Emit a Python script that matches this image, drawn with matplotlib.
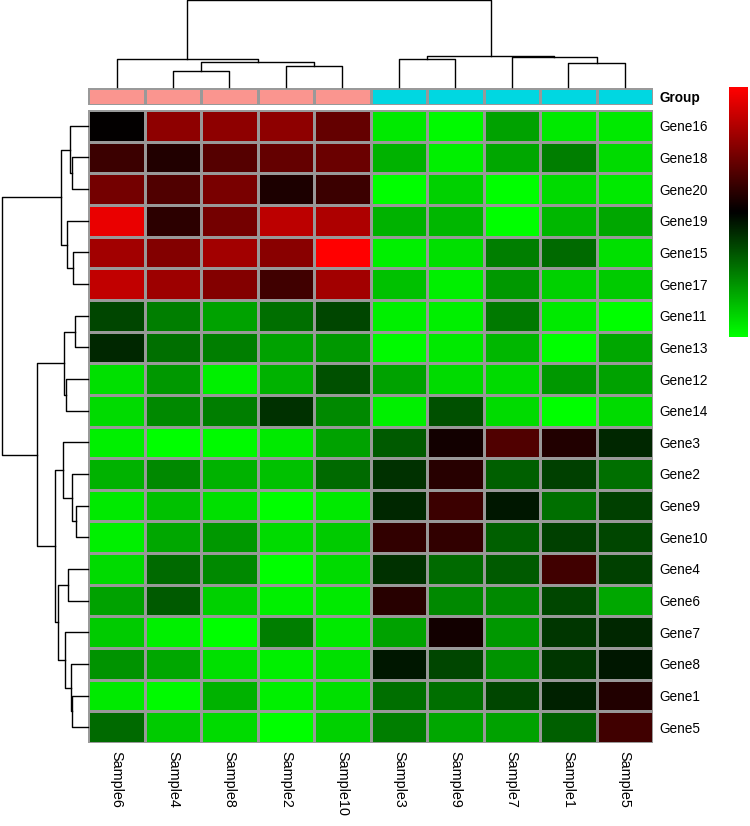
import numpy as np
import matplotlib
matplotlib.use("Agg")
import matplotlib.pyplot as plt
from matplotlib.colors import LinearSegmentedColormap, ListedColormap

plt.rcParams['font.family'] = ['Liberation Sans', 'DejaVu Sans']

# display order after clustering
samples = ["Sample6", "Sample4", "Sample8", "Sample2", "Sample10",
           "Sample3", "Sample9", "Sample7", "Sample1", "Sample5"]
genes = ["Gene16", "Gene18", "Gene20", "Gene19", "Gene15", "Gene17",
         "Gene11", "Gene13", "Gene12", "Gene14", "Gene3", "Gene2",
         "Gene9", "Gene10", "Gene4", "Gene6", "Gene7", "Gene8",
         "Gene1", "Gene5"]
groups = [0, 0, 0, 0, 0, 1, 1, 1, 1, 1]

# scaled expression (-1 = green, 0 = black, 1 = red)
values = np.array([
    [0.00, 0.55, 0.55, 0.55, 0.38, -0.91, -0.97, -0.63, -0.91, -0.91],
    [0.22, 0.13, 0.33, 0.38, 0.41, -0.69, -0.94, -0.66, -0.50, -0.85],
    [0.44, 0.31, 0.47, 0.10, 0.22, -1.00, -0.82, -1.00, -0.85, -0.91],
    [0.91, 0.17, 0.45, 0.72, 0.66, -0.69, -0.72, -1.00, -0.72, -0.66],
    [0.63, 0.50, 0.63, 0.52, 1.00, -0.94, -0.88, -0.50, -0.41, -0.88],
    [0.75, 0.60, 0.50, 0.25, 0.63, -0.75, -0.94, -0.60, -0.82, -0.78],
    [-0.28, -0.50, -0.63, -0.44, -0.28, -0.94, -0.94, -0.47, -0.91, -1.00],
    [-0.16, -0.44, -0.50, -0.63, -0.60, -0.97, -0.91, -0.72, -1.00, -0.66],
    [-0.88, -0.60, -0.94, -0.69, -0.31, -0.63, -0.85, -0.85, -0.60, -0.63],
    [-0.85, -0.53, -0.50, -0.19, -0.53, -0.94, -0.31, -0.85, -1.00, -0.85],
    [-0.94, -1.00, -0.97, -0.91, -0.63, -0.34, 0.06, 0.31, 0.13, -0.16],
    [-0.69, -0.53, -0.69, -0.75, -0.41, -0.19, 0.16, -0.38, -0.25, -0.44],
    [-0.91, -0.75, -0.88, -1.00, -0.91, -0.16, 0.22, -0.09, -0.44, -0.25],
    [-0.94, -0.66, -0.60, -0.85, -0.78, 0.19, 0.19, -0.38, -0.25, -0.28],
    [-0.85, -0.41, -0.53, -1.00, -0.85, -0.19, -0.41, -0.34, 0.25, -0.25],
    [-0.63, -0.34, -0.82, -0.94, -0.91, 0.16, -0.53, -0.53, -0.28, -0.66],
    [-0.78, -0.94, -1.00, -0.50, -0.91, -0.63, 0.06, -0.60, -0.22, -0.16],
    [-0.56, -0.66, -0.88, -0.94, -0.88, -0.09, -0.28, -0.56, -0.22, -0.09],
    [-0.91, -0.97, -0.69, -0.94, -0.88, -0.44, -0.44, -0.28, -0.13, 0.13],
    [-0.41, -0.78, -0.85, -1.00, -0.82, -0.50, -0.66, -0.63, -0.38, 0.25],
])

# merges: (a, b, height); ids >= n refer to earlier merges
col_merges = [(1, 2, 16), (3, 4, 21.3), (10, 11, 25.3), (0, 12, 27.7),
              (5, 6, 27.7), (8, 9, 23.7), (7, 15, 29.7), (14, 16, 31.3),
              (13, 17, 87)]
row_merges = [(1, 2, 16.3), (0, 20, 18.3), (4, 5, 15.3), (3, 22, 20.7),
              (21, 23, 26.7), (6, 7, 13.3), (8, 9, 22), (25, 26, 23.7),
              (12, 13, 12.3), (11, 28, 15.7), (10, 29, 24.7), (14, 15, 19.7),
              (18, 19, 16), (17, 32, 16.7), (16, 33, 23.3), (31, 34, 30),
              (30, 35, 33.3), (27, 36, 51.3), (24, 37, 86)]

W, H = 750, 826


def box(x0, y0, x1, y1):
    # pixel box (top-left origin) -> figure fraction rect
    return [x0 / W, (H - y1) / H, (x1 - x0) / W, (y1 - y0) / H]


def dendro(ax, merges, n, horizontal):
    pos = {i: i + 0.5 for i in range(n)}
    hgt = {i: 0.0 for i in range(n)}
    for k, (a, b, h) in enumerate(merges):
        xs = [pos[a], pos[a], pos[b], pos[b]]
        ys = [hgt[a], h, h, hgt[b]]
        if horizontal:
            ax.plot(ys, xs, color="black", lw=1.0, clip_on=False)
        else:
            ax.plot(xs, ys, color="black", lw=1.0, clip_on=False)
        pos[n + k] = (pos[a] + pos[b]) / 2
        hgt[n + k] = h
    ax.axis("off")


fig = plt.figure(figsize=(7.5, 8.26), dpi=100)

hx0, hx1, hy0, hy1 = 88.3, 653, 110, 743

cmap = LinearSegmentedColormap.from_list("gkr", ["#00FF00", "#000000", "#FF0000"], N=100)
ax = fig.add_axes(box(hx0, hy0, hx1, hy1))
ax.pcolormesh(values, cmap=cmap, vmin=-1, vmax=1, edgecolors="#999999",
              linewidth=0.8, snap=True)
ax.set_xlim(0, 10)
ax.set_ylim(20, 0)
ax.yaxis.tick_right()
ax.set_yticks(np.arange(20) + 0.5)
ax.set_yticklabels(genes, fontsize=9.8)
ax.set_xticks(np.arange(10) + 0.5)
ax.set_xticklabels(samples, fontsize=10.4, rotation=-90, va="top")
ax.tick_params(length=0, pad=4.5)
ax.tick_params(axis="x", pad=5.5)
for s in ax.spines.values():
    s.set_visible(False)

# group annotation
axg = fig.add_axes(box(hx0, 88.3, hx1, 105))
axg.pcolormesh(np.array([groups]), cmap=ListedColormap(["#FA958F", "#00D7E1"]),
               vmin=0, vmax=1, edgecolors="#999999", linewidth=0.8, snap=True)
axg.set_xlim(0, 10)
axg.set_ylim(0, 1)
axg.set_xticks([])
axg.yaxis.tick_right()
axg.set_yticks([0.5])
axg.set_yticklabels(["Group"], fontsize=9.8, fontweight="bold")
axg.tick_params(length=0, pad=4.5)
for s in axg.spines.values():
    s.set_visible(False)

# column dendrogram
axc = fig.add_axes(box(hx0, 0, hx1, 87))
axc.set_xlim(0, 10)
axc.set_ylim(0, 87)
dendro(axc, col_merges, 10, horizontal=False)

# row dendrogram
axr = fig.add_axes(box(1.7, hy0, hx0 - 0.3, hy1))
axr.set_xlim(86, 0)
axr.set_ylim(20, 0)
dendro(axr, row_merges, 20, horizontal=True)

# colour legend
axl = fig.add_axes(box(729, 87, 748, 337))
axl.imshow(np.linspace(1, -1, 100).reshape(-1, 1), cmap=cmap, vmin=-1, vmax=1,
           aspect="auto", extent=[0, 1, -1, 1])
axl.axis("off")

fig.savefig("out.png", dpi=100)
